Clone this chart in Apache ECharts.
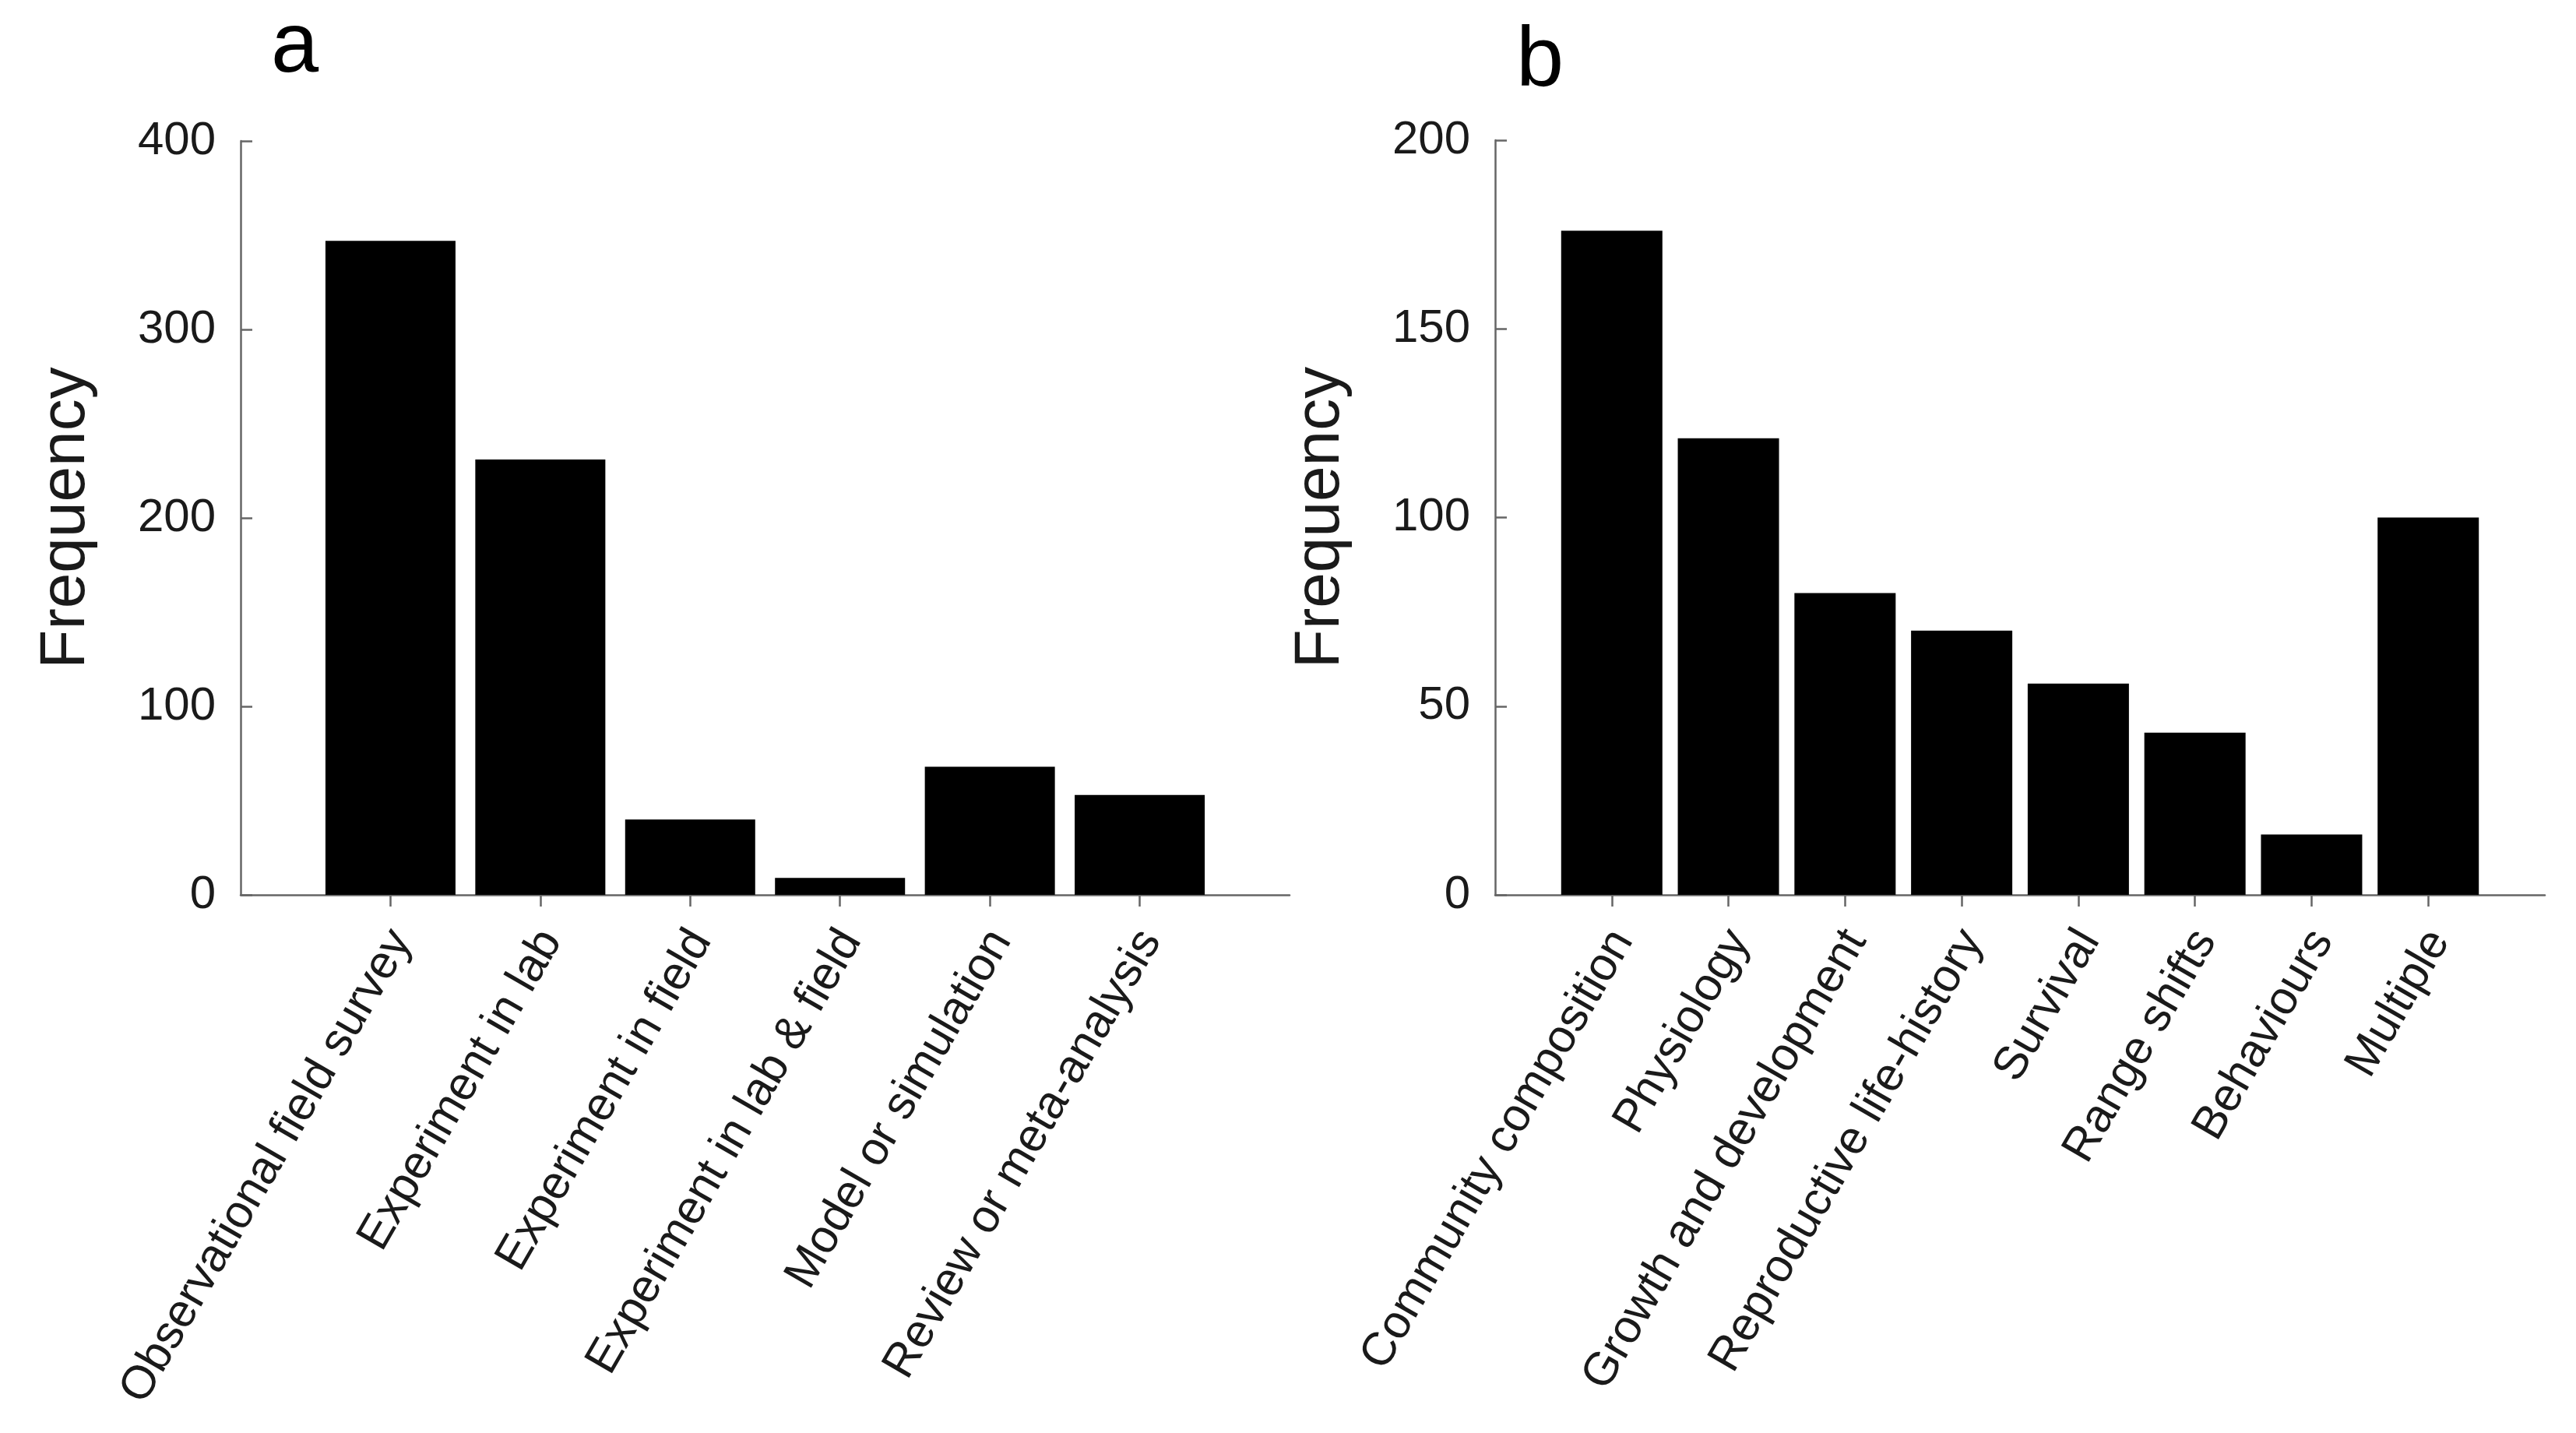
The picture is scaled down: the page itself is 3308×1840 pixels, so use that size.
<!DOCTYPE html>
<html>
<head>
<meta charset="utf-8">
<script src="https://cdn.jsdelivr.net/npm/echarts@6/dist/echarts.min.js"></script>
<style>
html,body{margin:0;padding:0;background:#fff;}
#chart{width:3308px;height:1840px;}
</style>
</head>
<body>
<div id="chart"></div>
<script>
// Panel a
const catsA = ['Observational field survey', 'Experiment in lab', 'Experiment in field',
  'Experiment in lab & field', 'Model or simulation', 'Review or meta-analysis'];
const valsA = [347, 231, 40, 9, 68, 53];
const ticksA = [0, 100, 200, 300, 400];
// Panel b
const catsB = ['Community composition', 'Physiology', 'Growth and development',
  'Reproductive life-history', 'Survival', 'Range shifts', 'Behaviours', 'Multiple'];
const valsB = [176, 121, 80, 70, 56, 43, 16, 100];
const ticksB = [0, 50, 100, 150, 200];

const FONT = 'Liberation Sans, Arial, sans-serif';
const AXIS_COLOR = '#666';
const TEXT_COLOR = '#1a1a1a';

function xAxisFor(cats, gridIndex) {
  const pos = cats.map((c, i) => i + 1);
  return {
    type: 'value', gridIndex: gridIndex, min: 0, max: cats.length + 1,
    splitLine: {show: false},
    axisLine: {show: true, lineStyle: {color: AXIS_COLOR, width: 2.5}},
    axisTick: {show: true, customValues: pos, length: 15, inside: false,
      lineStyle: {color: AXIS_COLOR, width: 2.5}},
    axisLabel: {show: true, customValues: pos, rotate: 60, margin: 42,
      verticalAlign: 'top', lineHeight: 32,
      fontSize: 60, fontFamily: FONT, color: TEXT_COLOR,
      formatter: v => cats[Math.round(v) - 1] || ''}
  };
}
function yAxisFor(ticks, gridIndex) {
  return {
    type: 'value', gridIndex: gridIndex, min: ticks[0], max: ticks[ticks.length - 1],
    interval: ticks[1] - ticks[0],
    splitLine: {show: false},
    name: 'Frequency', nameLocation: 'middle', nameGap: 183,
    nameTextStyle: {fontSize: 82, fontFamily: FONT, color: TEXT_COLOR},
    axisLine: {show: true, lineStyle: {color: AXIS_COLOR, width: 2.5}},
    axisTick: {show: true, inside: true, length: 15, lineStyle: {color: AXIS_COLOR, width: 2.5}},
    axisLabel: {margin: 32, fontSize: 60, fontFamily: FONT, color: TEXT_COLOR}
  };
}

const chart = echarts.init(document.getElementById('chart'), null, {renderer: 'canvas'});
chart.setOption({
  backgroundColor: '#fff',
  animation: false,
  title: [
    {text: 'a', left: 343, top: 2, textStyle: {fontSize: 110, fontWeight: 'normal', fontFamily: FONT, color: '#000'}},
    {text: 'b', left: 1942, top: 20, textStyle: {fontSize: 110, fontWeight: 'normal', fontFamily: FONT, color: '#000'}}
  ],
  grid: [
    {left: 309, top: 181, right: 1652, bottom: 691, containLabel: false},
    {left: 1920, top: 180, right: 40, bottom: 691, containLabel: false}
  ],
  xAxis: [xAxisFor(catsA, 0), xAxisFor(catsB, 1)],
  yAxis: [yAxisFor(ticksA, 0), yAxisFor(ticksB, 1)],
  series: [
    {type: 'bar', xAxisIndex: 0, yAxisIndex: 0, barWidth: 167,
      itemStyle: {color: '#000'}, data: valsA.map((v, i) => [i + 1, v])},
    {type: 'bar', xAxisIndex: 1, yAxisIndex: 1, barWidth: 130,
      itemStyle: {color: '#000'}, data: valsB.map((v, i) => [i + 1, v])}
  ]
});
</script>
</body>
</html>
